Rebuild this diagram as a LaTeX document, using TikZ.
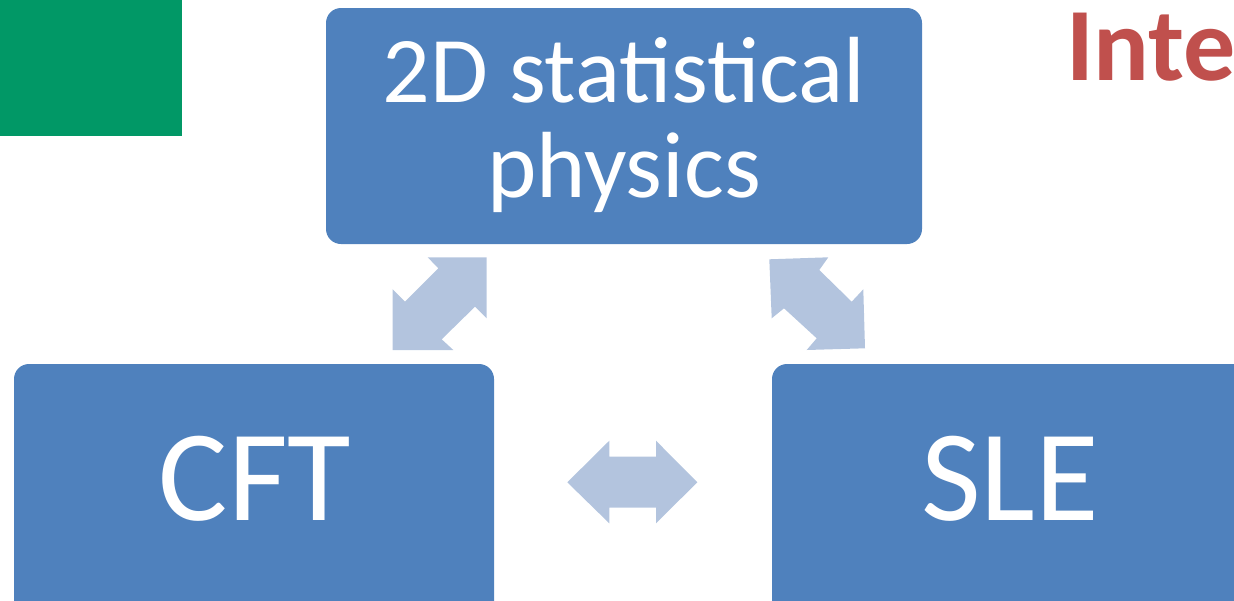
\documentclass[tikz,border=0pt]{standalone}
\usepackage{fontspec}
\setmainfont{Carlito}
\definecolor{boxblue}{HTML}{4F81BD}
\definecolor{arrowblue}{HTML}{B3C4DE}
\definecolor{titlered}{HTML}{C0504D}
\definecolor{topgreen}{HTML}{019866}
\tikzset{
  bluebox/.style={fill=boxblue, draw=none, rounded corners=15pt, inner sep=0pt},
  boxtext/.style={text=white, inner sep=0pt, align=center},
  blockarrow/.style={fill=arrowblue, draw=none},
}
\begin{document}
\begin{tikzpicture}[x=1pt,y=-1pt]
\useasboundingbox (0,0) rectangle (1234,600);
\clip (0,0) rectangle (1234,600);
% green block
\fill[topgreen] (0,0) rectangle (182,136);
% title fragment
\node[anchor=base west, inner sep=0pt, text=titlered, font=\fontsize{104}{110}\selectfont\bfseries] (title) at (1066,80) {Inte};
% boxes
\node[bluebox, minimum width=596pt, minimum height=236pt] (stat) at (624,126) {};
\node[bluebox, minimum width=480pt, minimum height=270pt] (cft) at (254,499) {};
\node[bluebox, minimum width=480pt, minimum height=270pt] (sle) at (1012,499) {};
% texts
\node[boxtext, font=\fontsize{94}{95}\selectfont, anchor=base] (statlabel1) at (624,102) {2D statistical};
\node[boxtext, font=\fontsize{94}{95}\selectfont, anchor=base] (statlabel2) at (624,197) {physics};
\node[boxtext, font=\fontsize{130}{136}\selectfont, anchor=base] (cftlabel) at (255,520) {CFT};
\node[boxtext, font=\fontsize{130}{136}\selectfont, anchor=base] (slelabel) at (1010,520) {SLE};
% block arrows (connectors)
\fill[blockarrow] (427.7,257.3) -- (486.7,257.3) -- (486.7,318.3) -- (475,306.7) -- (441.7,339.3) -- (453.3,350) -- (392.7,350) -- (392.7,289.3) -- (405,301.7) -- (438.3,268.3) -- cycle;
\fill[blockarrow] (769.3,259.3) -- (828.3,257.3) -- (819.3,270) -- (851.7,301.7) -- (863.3,289.3) -- (865,348.3) -- (806.7,350) -- (816.7,338.3) -- (784,308.3) -- (771.7,318.3) -- cycle;
\fill[blockarrow] (567.3,482.3) -- (609.3,440.7) -- (609.3,456.7) -- (656,456.7) -- (656,440.7) -- (697.3,482.3) -- (656,523.3) -- (656,507.7) -- (609.3,507.7) -- (609.3,523.3) -- cycle;
\end{tikzpicture}
\end{document}
